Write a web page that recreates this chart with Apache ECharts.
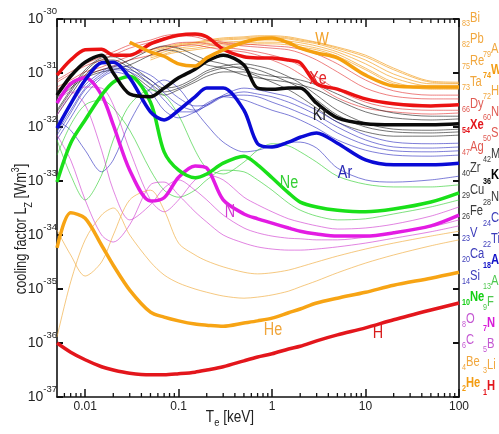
<!DOCTYPE html>
<html><head><meta charset="utf-8">
<script src="https://cdn.jsdelivr.net/npm/echarts@6/dist/echarts.min.js"></script>
<style>html,body{margin:0;padding:0;background:#fff}#c{width:499px;height:434px}</style>
</head><body><div id="c"></div>
<script>
// electron temperature grid (keV)
const Te = [0.005, 0.007, 0.01, 0.015, 0.02, 0.03, 0.05, 0.07, 0.1, 0.15, 0.2, 0.3, 0.5, 0.7, 1, 1.5, 2, 3, 5, 10, 20, 50, 100];
// log10 of cooling factor L_Z [W m^3]
const H  = [-36.0,-36.17,-36.31,-36.44,-36.5,-36.56,-36.59,-36.59,-36.57,-36.54,-36.5,-36.44,-36.33,-36.26,-36.2,-36.11,-36.06,-35.96,-35.85,-35.72,-35.57,-35.39,-35.26];
const He = [-34.24,-33.59,-33.69,-34.19,-34.56,-35.02,-35.43,-35.52,-35.59,-35.65,-35.67,-35.69,-35.63,-35.59,-35.54,-35.44,-35.37,-35.26,-35.17,-35.06,-34.93,-34.8,-34.69];
const Li = [-35.89,-34.87,-34.09,-33.63,-33.5,-34.0,-34.5,-34.74,-34.89,-35.0,-35.06,-35.13,-35.17,-35.15,-35.11,-35.04,-34.96,-34.85,-34.7,-34.52,-34.37,-34.2,-34.09];
const Be = [-33.91,-34.37,-34.76,-34.5,-34.0,-33.35,-33.17,-33.54,-34.15,-34.37,-34.48,-34.59,-34.69,-34.72,-34.7,-34.65,-34.59,-34.5,-34.39,-34.26,-34.15,-34.02,-33.93];
const B  = [-32.15,-32.61,-33.35,-34.0,-34.13,-33.81,-33.07,-33.02,-33.26,-33.57,-33.76,-34.0,-34.15,-34.22,-34.26,-34.28,-34.28,-34.26,-34.22,-34.15,-34.06,-33.94,-33.83];
const C  = [-31.5,-31.35,-31.59,-32.43,-33.17,-33.72,-33.44,-33.13,-32.98,-33.17,-33.35,-33.63,-33.87,-33.96,-34.02,-34.06,-34.07,-34.09,-34.09,-34.04,-33.96,-33.85,-33.72];
const N  = [-31.56,-31.2,-31.09,-31.41,-31.96,-32.8,-33.37,-33.31,-32.93,-32.72,-32.76,-33.35,-33.61,-33.7,-33.78,-33.87,-33.93,-33.98,-34.02,-34.02,-33.96,-33.83,-33.63];
const O  = [-31.78,-31.41,-31.26,-31.28,-31.59,-32.43,-33.35,-33.57,-33.35,-32.98,-32.89,-32.98,-33.3,-33.44,-33.57,-33.7,-33.76,-33.83,-33.89,-33.87,-33.8,-33.65,-33.48];
const F  = [-32.52,-31.96,-31.59,-31.5,-31.65,-32.06,-32.8,-33.17,-33.3,-33.17,-32.98,-32.8,-32.83,-32.98,-33.17,-33.41,-33.54,-33.65,-33.72,-33.7,-33.61,-33.48,-33.35];
const Ne = [-33.02,-32.3,-31.87,-31.41,-31.17,-31.06,-31.54,-32.46,-32.8,-32.94,-32.87,-32.67,-32.54,-32.7,-32.94,-33.22,-33.39,-33.48,-33.54,-33.57,-33.52,-33.39,-33.22];
const Al = [-32.24,-32.89,-33.35,-32.89,-32.24,-31.59,-31.31,-31.41,-31.78,-32.43,-32.76,-32.87,-32.65,-32.43,-32.31,-32.35,-32.46,-32.65,-32.91,-33.06,-33.11,-33.11,-33.07];
const Si = [-31.87,-32.06,-32.43,-32.83,-32.61,-31.91,-31.28,-31.13,-31.28,-31.69,-31.96,-32.28,-32.46,-32.43,-32.35,-32.28,-32.28,-32.39,-32.76,-32.98,-33.02,-32.98,-32.91];
const Ar = [-32.02,-31.57,-31.13,-30.81,-30.8,-31.09,-31.72,-31.87,-31.69,-31.44,-31.28,-31.28,-31.69,-32.31,-32.37,-32.28,-32.19,-32.11,-32.3,-32.61,-32.7,-32.7,-32.67];
const Ca = [-32.24,-31.83,-31.41,-31.09,-30.98,-31.06,-31.35,-31.69,-31.83,-31.72,-31.56,-31.44,-31.5,-31.59,-31.69,-31.78,-31.87,-32.02,-32.24,-32.43,-32.52,-32.54,-32.52];
const Ti = [-32.15,-31.74,-31.31,-31.06,-30.94,-30.98,-31.22,-31.5,-31.72,-31.72,-31.59,-31.43,-31.41,-31.44,-31.54,-31.65,-31.74,-31.87,-32.11,-32.33,-32.44,-32.46,-32.44];
const V  = [-32.09,-31.69,-31.28,-31.02,-30.91,-30.94,-31.13,-31.37,-31.59,-31.69,-31.61,-31.44,-31.35,-31.39,-31.44,-31.54,-31.63,-31.78,-32.0,-32.24,-32.37,-32.39,-32.37];
const Cr = [-32.02,-31.61,-31.22,-30.98,-30.87,-30.89,-31.04,-31.24,-31.46,-31.61,-31.59,-31.41,-31.28,-31.31,-31.37,-31.44,-31.54,-31.69,-31.91,-32.15,-32.28,-32.31,-32.3];
const Fe = [-31.78,-31.41,-31.04,-30.8,-30.8,-30.98,-31.28,-31.41,-31.31,-31.17,-31.06,-30.98,-30.98,-31.06,-31.17,-31.31,-31.44,-31.65,-31.91,-32.09,-32.17,-32.17,-32.15];
const Ni = [-31.72,-31.35,-30.98,-30.76,-30.76,-30.91,-31.2,-31.35,-31.28,-31.13,-31.0,-30.91,-30.89,-30.94,-31.04,-31.17,-31.28,-31.5,-31.78,-32.0,-32.09,-32.11,-32.09];
const Cu = [-31.69,-31.31,-30.94,-30.72,-30.7,-30.85,-31.13,-31.28,-31.24,-31.09,-30.96,-30.87,-30.83,-30.87,-30.94,-31.07,-31.19,-31.41,-31.69,-31.93,-32.04,-32.06,-32.04];
const Kr = [-31.41,-31.06,-30.8,-30.67,-31.0,-31.39,-31.44,-31.28,-31.09,-30.93,-30.78,-30.67,-30.85,-31.28,-31.3,-31.28,-31.28,-31.56,-31.83,-31.94,-31.96,-31.96,-31.94];
const Zr = [-31.5,-31.28,-31.09,-30.98,-30.94,-30.85,-30.67,-30.57,-30.61,-30.76,-30.85,-30.91,-31.04,-31.09,-31.13,-31.17,-31.22,-31.31,-31.5,-31.72,-31.83,-31.87,-31.85];
const Mo = [-31.46,-31.24,-31.06,-30.94,-30.89,-30.76,-30.57,-30.5,-30.54,-30.67,-30.76,-30.83,-30.94,-31.02,-31.06,-31.09,-31.13,-31.22,-31.39,-31.61,-31.74,-31.8,-31.8];
const Ag = [-31.31,-31.17,-31.04,-30.94,-30.87,-30.76,-30.67,-30.57,-30.5,-30.48,-30.52,-30.57,-30.61,-30.67,-30.76,-30.89,-31.02,-31.22,-31.46,-31.65,-31.72,-31.76,-31.74];
const Sn = [-31.26,-31.13,-30.98,-30.89,-30.8,-30.69,-30.57,-30.5,-30.44,-30.43,-30.46,-30.52,-30.57,-30.61,-30.67,-30.76,-30.87,-31.07,-31.31,-31.54,-31.65,-31.69,-31.69];
const Xe = [-31.04,-30.76,-30.57,-30.56,-30.67,-30.67,-30.46,-30.37,-30.3,-30.28,-30.33,-30.56,-30.7,-30.72,-30.72,-30.76,-30.81,-31.2,-31.3,-31.48,-31.57,-31.61,-31.59];
const Nd = [-31.17,-31.02,-30.87,-30.76,-30.67,-30.54,-30.43,-30.35,-30.31,-30.33,-30.39,-30.46,-30.5,-30.52,-30.54,-30.57,-30.63,-30.76,-30.98,-31.28,-31.43,-31.48,-31.48];
const Dy = [-31.13,-30.98,-30.83,-30.7,-30.61,-30.48,-30.39,-30.31,-30.28,-30.3,-30.35,-30.43,-30.46,-30.48,-30.5,-30.52,-30.56,-30.65,-30.83,-31.13,-31.33,-31.41,-31.41];
const Hf = [null,null,null,null,null,null,-30.76,-30.67,-30.61,-30.57,-30.54,-30.5,-30.48,-30.46,-30.46,-30.48,-30.52,-30.57,-30.69,-30.94,-31.2,-31.3,-31.3];
const Ta = [null,null,null,null,null,null,-30.72,-30.65,-30.57,-30.54,-30.5,-30.46,-30.44,-30.43,-30.43,-30.44,-30.48,-30.54,-30.65,-30.91,-31.17,-31.28,-31.28];
const W  = [null,null,null,null,null,-30.43,-30.61,-30.69,-30.83,-30.87,-30.72,-30.57,-30.43,-30.37,-30.35,-30.44,-30.54,-30.63,-30.72,-31.04,-31.24,-31.26,-31.26];
const Re = [null,null,null,null,null,null,-30.69,-30.61,-30.54,-30.5,-30.46,-30.43,-30.41,-30.39,-30.39,-30.41,-30.44,-30.5,-30.61,-30.83,-31.09,-31.24,-31.24];
const Au = [null,null,null,null,null,null,-30.65,-30.57,-30.5,-30.46,-30.43,-30.39,-30.37,-30.35,-30.35,-30.37,-30.41,-30.46,-30.57,-30.76,-31.02,-31.2,-31.2];
const Pb = [null,null,null,null,null,null,-30.61,-30.54,-30.48,-30.44,-30.41,-30.37,-30.35,-30.33,-30.33,-30.35,-30.39,-30.44,-30.54,-30.7,-30.94,-31.17,-31.19];
const Bi = [null,null,null,null,null,null,-30.57,-30.52,-30.46,-30.43,-30.39,-30.35,-30.33,-30.31,-30.31,-30.33,-30.37,-30.43,-30.52,-30.67,-30.91,-31.15,-31.17];

// axis ticks
const yTickExps = [-37, -36, -35, -34, -33, -32, -31, -30];
const xTickLabels = ['0.01', '0.1', '1', '10', '100'];
const xMinorTicks = [0.006,0.007,0.008,0.009,0.02,0.03,0.04,0.05,0.06,0.07,0.08,0.09,0.2,0.3,0.4,0.5,0.6,0.7,0.8,0.9,2,3,4,5,6,7,8,9,20,30,40,50,60,70,80,90];

// right-hand element key
const keyCol1 = [['83','Bi','o'],['82','Pb','o'],['75','Re','o'],['73','Ta','o'],['66','Dy','r'],['54','Xe','R'],['47','Ag','r'],['40','Zr','k'],['29','Cu','k'],['26','Fe','k'],['23','V','b'],['20','Ca','b'],['14','Si','b'],['10','Ne','G'],['8','O','m'],['6','C','m'],['4','Be','o'],['2','He','O']];
const keyCol2 = [['79','Au','o'],['74','W','O'],['72','Hf','o'],['60','Nd','r'],['50','Sn','r'],['42','Mo','k'],['36','Kr','K'],['28','Ni','k'],['24','Cr','b'],['22','Ti','b'],['18','Ar','B'],['13','Al','g'],['9','F','g'],['7','N','M'],['5','B','m'],['3','Li','o'],['1','H','R']];

// curve labels
const curveLabels = ['W','Xe','Kr','Ar','Ne','N','He','H'];

const FONT = "'Liberation Sans',Arial,sans-serif";
const NARROW = 0.8;
const keyColors = {o:'#f1a73e',O:'#f39c12',r:'#e05a52',R:'#e3161c',k:'#3a3a3a',K:'#000000',b:'#3c3cba',B:'#1414c8',g:'#4fc84f',G:'#12cf12',m:'#c457d2',M:'#d81ad8'};
const thinColors = {o:'rgba(243,163,40,0.7)',r:'rgba(226,45,45,0.6)',k:'rgba(25,25,25,0.6)',b:'rgba(40,40,190,0.6)',g:'rgba(40,205,40,0.6)',m:'rgba(205,50,205,0.6)',y:'rgba(240,170,60,0.65)'};

const thinSeries = [[Bi,'o'],[Pb,'o'],[Au,'o'],[Re,'o'],[Ta,'o'],[Hf,'o'],[Dy,'r'],[Nd,'r'],[Sn,'r'],[Ag,'r'],[Mo,'k'],[Zr,'k'],[Cu,'k'],[Ni,'k'],[Fe,'k'],[Cr,'b'],[V,'b'],[Ti,'b'],[Ca,'b'],[Si,'b'],[Al,'g'],[F,'g'],[O,'m'],[C,'m'],[B,'m'],[Be,'y'],[Li,'y']];
const boldSeries = [[H,'#e3161c'],[He,'#f7a414'],[N,'#e31be3'],[Ne,'#19e019'],[Ar,'#0a0ad6'],[Kr,'#0a0a0a'],[Xe,'#eb1212'],[W,'#f5a00f']];

function pairs(arr){ return Te.map((t,i)=>[t,arr[i]]).filter(p=>p[1]!=null); }

const series = [];
thinSeries.forEach(([arr,k])=>{
  series.push({type:'line',data:pairs(arr),symbol:'none',smooth:0.3,silent:true,z:2,
    lineStyle:{width:1,color:thinColors[k]}});
});
boldSeries.forEach(([arr,c])=>{
  series.push({type:'line',data:pairs(arr),symbol:'none',smooth:0.3,silent:true,z:3,
    lineStyle:{width:3.5,color:c}});
});
series.push({
  type:'custom', silent:true, z:6, clip:false,
  data: xMinorTicks.map(t=>[t,-37]),
  encode:{x:0,y:1},
  renderItem:(params,api)=>{
    const x = api.coord([api.value(0),-37])[0];
    const yb = api.coord([api.value(0),-37])[1];
    const yt = api.coord([api.value(0),-30])[1];
    return {type:'group',children:[
      {type:'line',shape:{x1:x,y1:yb,x2:x,y2:yb-4},style:{stroke:'#111',lineWidth:1.3}},
      {type:'line',shape:{x1:x,y1:yt,x2:x,y2:yt+4},style:{stroke:'#111',lineWidth:1.3}}
    ]};
  }
});

const elements = [];
const labelPos = {W:[322,40,'#f2a22a'],Xe:[318,79,'#e3262a'],Kr:[320,115,'#222'],Ar:[345,173,'#2b2bb5'],Ne:[289,183,'#35cf35'],N:[230,212,'#d23ad2'],He:[273,330,'#f0a53a'],H:[378,333,'#d81c1c']};
curveLabels.forEach(name=>{
  const p = labelPos[name];
  elements.push({type:'text',x:p[0],y:p[1],scaleX:NARROW,silent:true,z:10,style:{text:name,fill:p[2],fontSize:18,fontFamily:FONT,align:'center',verticalAlign:'middle'}});
});
function keyItem(it,x,y){
  const c = keyColors[it[2]];
  const bold = it[2] === it[2].toUpperCase();
  return {type:'text',x:x,y:y,scaleX:NARROW,silent:true,style:{
    text:'{n|'+it[0]+'}{e|'+it[1]+'}',align:'left',verticalAlign:'middle',
    rich:{
      n:{fontSize:9,lineHeight:9,verticalAlign:'bottom',fill:c,fontFamily:FONT,fontWeight:bold?'bold':'normal'},
      e:{fontSize:14,lineHeight:20,verticalAlign:'middle',fill:c,fontFamily:FONT,fontWeight:bold?'bold':'normal'}
    }}};
}
keyCol1.forEach((it,i)=>elements.push(keyItem(it,462,18+i*21.5)));
keyCol2.forEach((it,i)=>elements.push(keyItem(it,483,49+i*21.1)));
// axis titles
elements.push({type:'text',x:22,y:229,rotation:Math.PI/2,scaleX:0.8,silent:true,style:{
  text:'{a|cooling factor L}{s|Z}{a| [Wm}{p|3}{a|]}',align:'center',verticalAlign:'middle',
  rich:{a:{fontSize:16,lineHeight:24,verticalAlign:'middle',fill:'#222',fontFamily:FONT},
        s:{fontSize:11,lineHeight:11,verticalAlign:'bottom',fill:'#222',fontFamily:FONT},
        p:{fontSize:11,lineHeight:11,verticalAlign:'top',fill:'#222',fontFamily:FONT}}}});
elements.push({type:'text',x:230,y:418,scaleX:0.85,silent:true,style:{
  text:'{a|T}{s|e}{a| [keV]}',align:'center',verticalAlign:'middle',
  rich:{a:{fontSize:16,lineHeight:20,verticalAlign:'middle',fill:'#222',fontFamily:FONT},
        s:{fontSize:11,lineHeight:11,verticalAlign:'bottom',fill:'#222',fontFamily:FONT}}}});

function isDecade(v){ const l = Math.log10(v); return Math.abs(l-Math.round(l))<1e-6; }
function xLabel(v){
  if(!isDecade(v)) return '';
  const idx = Math.round(Math.log10(v)) + 2;
  return xTickLabels[idx] || '';
}

const axisLine = {show:true,lineStyle:{color:'#111',width:1.6}};
const option = {
  animation:false,
  backgroundColor:'#fff',
  grid:{left:57,right:40,top:19,bottom:37,outerBoundsMode:'none'},
  xAxis:[
    {type:'log',min:0.005,max:100,position:'bottom',axisLine:axisLine,
     axisTick:{show:true,inside:true,length:8,lineStyle:{color:'#111',width:1.5}},
     minorTick:{show:false},splitLine:{show:false},
     axisLabel:{margin:4,formatter:xLabel,color:'#222',fontSize:12,fontFamily:FONT,showMinLabel:false}},
    {type:'log',min:0.005,max:100,position:'top',axisLine:axisLine,
     axisTick:{show:true,inside:true,length:8,lineStyle:{color:'#111',width:1.5}},
     splitLine:{show:false},axisLabel:{show:false}}
  ],
  yAxis:[
    {type:'value',min:-37,max:-30,interval:1,position:'left',axisLine:axisLine,
     axisTick:{show:true,inside:true,length:6,lineStyle:{color:'#111',width:2}},
     splitLine:{show:false},
     axisLabel:{margin:0,color:'#222',
       formatter:v=>{ const e = yTickExps.find(t=>t===Math.round(v)); return '{b|10}{s|'+e+'}'; },
       rich:{b:{fontSize:14,lineHeight:26,verticalAlign:'middle',fontFamily:FONT,color:'#222'},
             s:{fontSize:9.5,lineHeight:10,verticalAlign:'top',fontFamily:FONT,color:'#222'}}}},
    {type:'value',min:-37,max:-30,interval:1,position:'right',axisLine:axisLine,
     axisTick:{show:true,inside:true,length:6,lineStyle:{color:'#111',width:2}},
     splitLine:{show:false},axisLabel:{show:false}}
  ],
  graphic:{elements:elements},
  series:series
};
const chart = echarts.init(document.getElementById('c'),null,{renderer:'canvas'});
chart.setOption(option);
</script>
</body></html>
